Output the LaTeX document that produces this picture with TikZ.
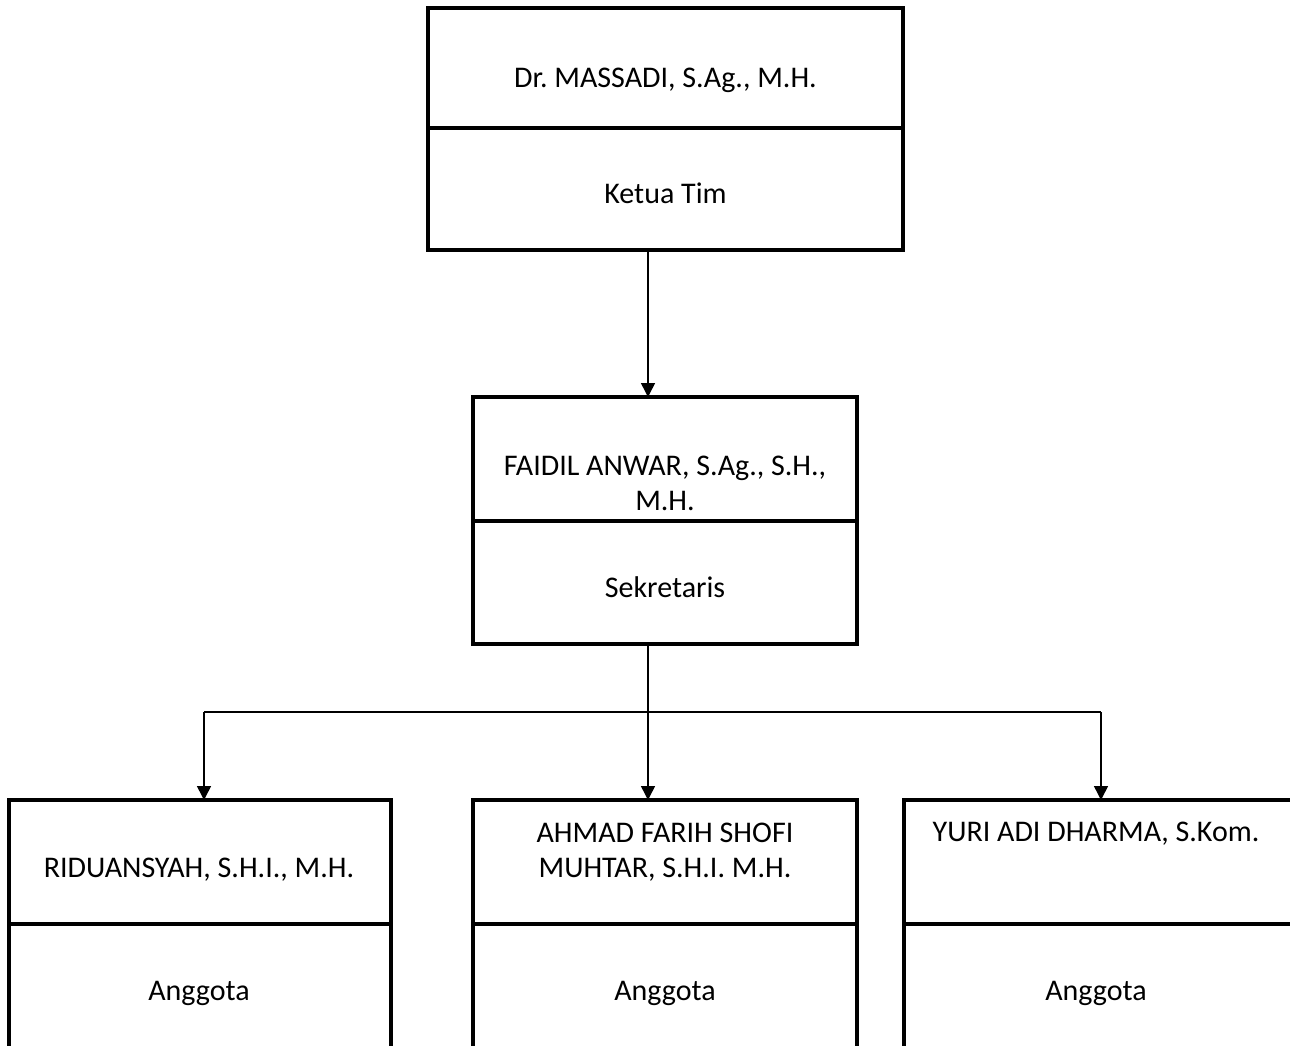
\documentclass[tikz,border=0pt]{standalone}
\usepackage{fontspec}
\setmainfont{Carlito}
\usetikzlibrary{arrows.meta}

\tikzset{
  sel/.style={draw, line width=1.6pt, inner sep=0pt, outer sep=0pt},
  teks/.style={anchor=base, align=center, inner sep=0pt, font=\fontsize{15}{17.5}\selectfont\frenchspacing},
  garis/.style={line width=0.75pt},
  panah/.style={garis, -{Triangle[width=7pt,length=7pt]}}
}

\begin{document}
\begin{tikzpicture}[x=0.5pt, y=-0.5pt]
  \useasboundingbox (0,0) rectangle (1290,1045);
  \clip (0,0) rectangle (1290,1045);

  % Ketua Tim
  \node[sel, minimum width=237.5pt, minimum height=60pt] (ketuaNama) at (665.5,68) {};
  \node[sel, minimum width=237.5pt, minimum height=61pt] (ketuaJabatan) at (665.5,189) {};
  \node[teks] (tKetuaNama) at (665.5,87.5) {Dr. MASSADI, S.Ag., M.H.};
  \node[teks] (tKetuaJabatan) at (665.5,203.5) {Ketua Tim};

  % Sekretaris
  \node[sel, minimum width=192pt, minimum height=62pt] (sekNama) at (665,459) {};
  \node[sel, minimum width=192pt, minimum height=61.5pt] (sekJabatan) at (665,582.5) {};
  \node[teks] (tSekNama) at (665,510.5) {FAIDIL ANWAR, S.Ag., S.H.,\\M.H.};
  \node[teks] (tSekJabatan) at (665,597.5) {Sekretaris};

  % Anggota
  \node[sel, minimum width=191pt, minimum height=62pt] (riduanNama) at (200,862) {};
  \node[sel, minimum width=191pt, minimum height=68pt] (riduanJabatan) at (200,992) {};
  \node[teks] (tRiduanNama) at (199,877.5) {RIDUANSYAH, S.H.I., M.H.};
  \node[teks] (tRiduanJabatan) at (199,1000.5) {Anggota};

  \node[sel, minimum width=192pt, minimum height=62pt] (ahmadNama) at (665,862) {};
  \node[sel, minimum width=192pt, minimum height=68pt] (ahmadJabatan) at (665,992) {};
  \node[teks] (tAhmadNama) at (665,877.5) {AHMAD FARIH SHOFI\\MUHTAR, S.H.I. M.H.};
  \node[teks] (tAhmadJabatan) at (665,1000.5) {Anggota};

  \node[sel, minimum width=196pt, minimum height=62pt] (yuriNama) at (1100,862) {};
  \node[sel, minimum width=196pt, minimum height=68pt] (yuriJabatan) at (1100,992) {};
  \node[teks] (tYuriNama) at (1096,841.5) {YURI ADI DHARMA, S.Kom.};
  \node[teks] (tYuriJabatan) at (1096,1000.5) {Anggota};

  % Garis penghubung
  \coordinate (poros) at (648,0);
  \coordinate (kiri) at (204,712);
  \coordinate (kanan) at (1101,712);

  \draw[panah] (ketuaJabatan.south -| poros) -- (sekNama.north -| poros);
  \draw[panah] (sekJabatan.south -| poros) -- (ahmadNama.north -| poros);
  \draw[garis] (kiri) -- (kanan);
  \draw[panah] (kiri) -- (kiri |- riduanNama.north);
  \draw[panah] (kanan) -- (kanan |- yuriNama.north);
\end{tikzpicture}
\end{document}
